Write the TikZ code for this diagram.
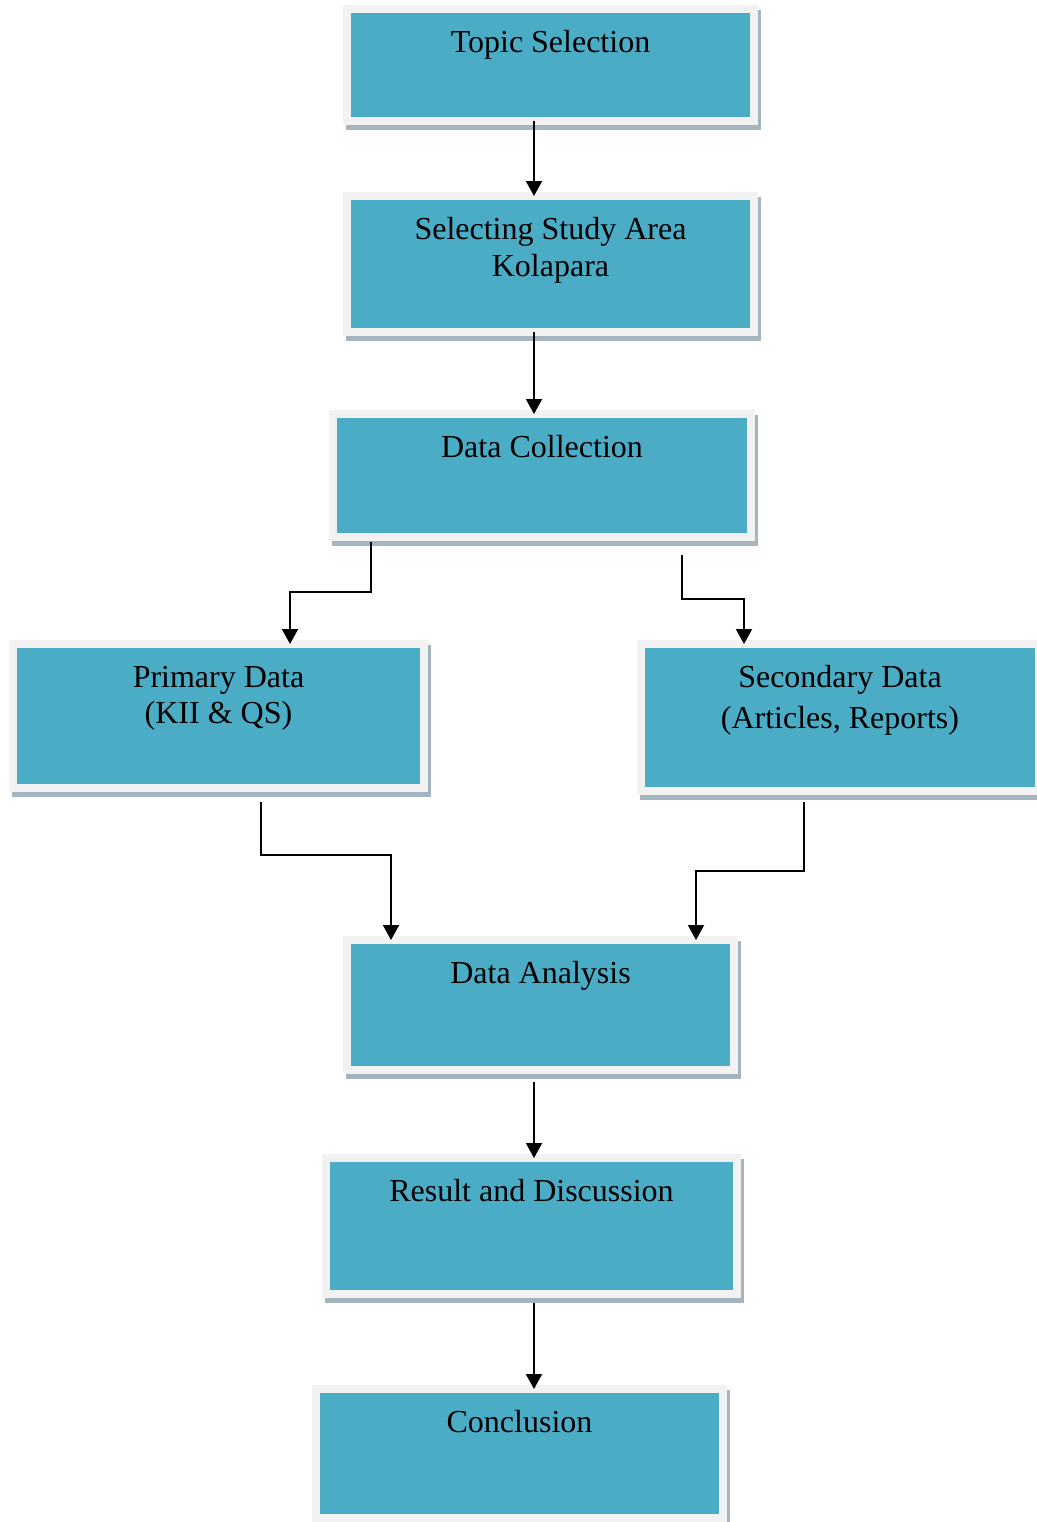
\documentclass[tikz,border=0pt]{standalone}
\usepackage{fontspec}
\setmainfont{Liberation Serif}
\usetikzlibrary{arrows.meta,calc}
\definecolor{boxteal}{HTML}{4BACC6}
\definecolor{boxframe}{HTML}{F2F2F2}
\definecolor{boxshadow}{HTML}{A3B6BE}
\newcommand\twolines[2]{\vtop{\halign{\hfil##\hfil\cr#1\cr#2\cr}}}
\tikzset{
  stagebox/.style={rectangle, inner sep=0pt, outer sep=0pt, fill=boxteal, draw=boxframe, line width=4pt,
    preaction={draw=boxshadow, fill=boxshadow, line width=4pt, transform canvas={xshift=1.5pt,yshift=-2.25pt}}},
  lbl/.style={anchor=base, inner sep=0pt, outer sep=0pt, font=\fontsize{16}{18.5}\selectfont, text=black},
  arr/.style={line width=1pt, -{Triangle[width=8pt,length=7.5pt]}},
}
\begin{document}
\begin{tikzpicture}[x=0.5pt,y=-0.5pt]
\useasboundingbox (0,0) rectangle (1037,1522);
\clip (0,0) rectangle (1037,1522);
% boxes
\node[stagebox, minimum width=203.5pt, minimum height=56pt] (b1) at (550.5,65) {};
\node[stagebox, minimum width=203.5pt, minimum height=68pt] (b2) at (550.5,264) {};
\node[stagebox, minimum width=209pt, minimum height=61.5pt] (b3) at (542,475.5) {};
\node[stagebox, minimum width=205.5pt, minimum height=72pt] (b4) at (218.5,716) {};
\node[stagebox, minimum width=199pt, minimum height=73.5pt] (b5) at (840,717.5) {};
\node[stagebox, minimum width=193.5pt, minimum height=65pt] (b6) at (540.5,1005) {};
\node[stagebox, minimum width=205.5pt, minimum height=68pt] (b7) at (531.5,1226) {};
\node[stagebox, minimum width=203.5pt, minimum height=64.5pt] (b8) at (519.5,1453.5) {};
% labels
\node[lbl] (t1) at ([yshift=-21.5pt]b1.north) {Topic Selection};
\node[lbl] (t2) at ([yshift=-21.5pt]b2.north) {\twolines{Selecting Study Area}{Kolapara}};
\node[lbl] (t3) at ([yshift=-21.5pt]b3.north) {Data Collection};
\node[lbl, font=\fontsize{16}{18}\selectfont] (t4) at ([yshift=-21.5pt]b4.north) {\twolines{Primary Data}{(KII \& QS)}};
\node[lbl, font=\fontsize{16}{20.5}\selectfont] (t5) at ([yshift=-21.5pt]b5.north) {\twolines{Secondary Data}{(Articles, Reports)}};
\node[lbl] (t6) at ([yshift=-21.5pt]b6.north) {Data Analysis};
\node[lbl] (t7) at ([yshift=-21.5pt]b7.north) {Result and Discussion};
\node[lbl] (t8) at ([yshift=-21.5pt]b8.north) {Conclusion};
% connectors
\draw[arr] ([xshift=-8.25pt]b1.south) -- ([xshift=-8.25pt]b2.north);
\draw[arr] ([xshift=-8.25pt]b2.south) -- ([xshift=-4pt]b3.north);
\draw[arr] ([xshift=-85.5pt,yshift=-2.25pt]b3.south) -- ++(0,50) -| ([xshift=35.75pt]b4.north);
\draw[arr] ([xshift=70pt,yshift=-9pt]b3.south) -- ++(0,44) -| ([xshift=-48pt]b5.north);
\draw[arr] ([xshift=21.25pt,yshift=-7pt]b4.south) -- ++(0,53) -| ([xshift=-74.75pt]b6.north);
\draw[arr] ([xshift=-18pt,yshift=-5.5pt]b5.south) -- ++(0,69) -| ([xshift=77.75pt]b6.north);
\draw[arr] ([xshift=-3.25pt,yshift=-6pt]b6.south) coordinate (s6) -- (s6 |- b7.north);
\draw[arr] ([xshift=1.25pt,yshift=-4.5pt]b7.south) coordinate (s7) -- (s7 |- b8.north);
\end{tikzpicture}
\end{document}
